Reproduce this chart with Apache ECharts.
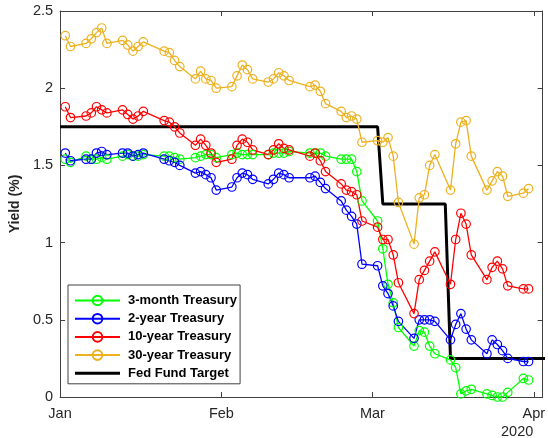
<!DOCTYPE html>
<html>
<head>
<meta charset="utf-8">
<script src="https://cdn.jsdelivr.net/npm/echarts@6/dist/echarts.min.js"></script>
<style>
html,body{margin:0;padding:0;background:#fff;}
#chart{width:548px;height:438px;}
</style>
</head>
<body>
<div id="chart"></div>
<script>
// ---- data ----
const dates = [
 '2020-01-02','2020-01-03','2020-01-06','2020-01-07','2020-01-08','2020-01-09','2020-01-10',
 '2020-01-13','2020-01-14','2020-01-15','2020-01-16','2020-01-17','2020-01-21','2020-01-22',
 '2020-01-23','2020-01-24','2020-01-27','2020-01-28','2020-01-29','2020-01-30','2020-01-31',
 '2020-02-03','2020-02-04','2020-02-05','2020-02-06','2020-02-07','2020-02-10','2020-02-11',
 '2020-02-12','2020-02-13','2020-02-14','2020-02-18','2020-02-19','2020-02-20','2020-02-21',
 '2020-02-24','2020-02-25','2020-02-26','2020-02-27','2020-02-28',
 '2020-03-02','2020-03-03','2020-03-04','2020-03-05','2020-03-06','2020-03-09','2020-03-10',
 '2020-03-11','2020-03-12','2020-03-13','2020-03-16','2020-03-17','2020-03-18','2020-03-19',
 '2020-03-20','2020-03-23','2020-03-24','2020-03-25','2020-03-26','2020-03-27','2020-03-30','2020-03-31'
];
const month3 = [
 1.54,1.52,1.56,1.54,1.54,1.55,1.54,1.56,1.57,1.56,1.56,1.57,1.56,1.56,1.55,1.54,1.55,1.56,1.57,1.57,1.55,
 1.57,1.58,1.57,1.57,1.57,1.57,1.58,1.58,1.58,1.59,1.58,1.58,1.58,1.56,1.54,1.54,1.54,1.46,1.27,
 1.14,0.96,0.73,0.61,0.45,0.33,0.43,0.42,0.33,0.28,0.24,0.19,0.02,0.04,0.05,0.02,0.01,0.00,0.00,0.03,0.12,0.11
];
const year2 = [
 1.58,1.53,1.54,1.54,1.58,1.59,1.57,1.58,1.58,1.56,1.57,1.58,1.54,1.53,1.52,1.50,1.45,1.46,1.44,1.42,1.34,
 1.36,1.42,1.45,1.44,1.41,1.38,1.41,1.45,1.44,1.42,1.42,1.43,1.39,1.35,1.27,1.21,1.17,1.12,0.86,
 0.85,0.72,0.67,0.59,0.49,0.38,0.50,0.50,0.50,0.49,0.37,0.47,0.54,0.44,0.37,0.28,0.37,0.34,0.30,0.25,0.23,0.23
];
const year10 = [
 1.88,1.81,1.82,1.84,1.88,1.86,1.84,1.86,1.83,1.80,1.82,1.85,1.79,1.78,1.75,1.71,1.63,1.67,1.63,1.58,1.52,
 1.54,1.63,1.67,1.65,1.60,1.57,1.60,1.64,1.61,1.60,1.56,1.58,1.53,1.46,1.38,1.34,1.33,1.31,1.14,
 1.10,1.02,1.02,0.92,0.74,0.54,0.76,0.82,0.88,0.94,0.73,1.02,1.19,1.12,0.92,0.76,0.84,0.88,0.83,0.72,0.70,0.70
];
const year30 = [
 2.34,2.27,2.29,2.32,2.36,2.39,2.29,2.31,2.28,2.24,2.27,2.30,2.24,2.23,2.18,2.14,2.06,2.11,2.06,2.05,2.00,
 2.01,2.08,2.15,2.12,2.06,2.04,2.06,2.10,2.08,2.05,2.01,2.02,1.98,1.90,1.85,1.81,1.82,1.80,1.65,
 1.66,1.65,1.68,1.56,1.26,0.99,1.29,1.31,1.50,1.57,1.34,1.64,1.78,1.79,1.56,1.34,1.40,1.46,1.43,1.30,1.32,1.35
];
const fedDates = ['2020-01-01','2020-03-02','2020-03-03','2020-03-15','2020-03-16','2020-04-05'];
const fedRate  = [1.75,1.75,1.25,1.25,0.25,0.25];
const monthTickDates = ['2020-01-01','2020-02-01','2020-03-01','2020-04-01'];
const monthTickLabels = ['Jan','Feb','Mar','Apr'];
const yearLabel = '2020';
const seriesNames = ['3-month Treasury','2-year Treasury','10-year Treasury','30-year Treasury','Fed Fund Target'];

// ---- build ----
function ts(s){ const p = s.split('-').map(Number); return Date.UTC(p[0], p[1]-1, p[2]); }
const DAY = 86400000;
const xMin = ts('2020-01-01');
const xMax = xMin + 92.7 * DAY;
const tickVals = monthTickDates.map(ts);
const pairs = (ds, vs) => ds.map((d, i) => [ts(d), vs[i]]);

const AX = '#404040';
const TXT = '#262626';
const FONT = 'Liberation Sans, Arial, Helvetica, sans-serif';

function markerSeries(name, vals, color){
  return {
    name: name, type: 'line', xAxisIndex: 0, yAxisIndex: 0,
    data: pairs(dates, vals),
    symbol: 'circle', symbolSize: 8.5, showSymbol: true,
    itemStyle: { color: 'rgba(0,0,0,0)', borderColor: color, borderWidth: 1.2 },
    lineStyle: { color: color, width: 1.3 },
    emphasis: { disabled: true },
    z: 3
  };
}

const legendData = seriesNames.map((n, i) =>
  i === 4 ? { name: n, icon: 'path://M0,0H45V3H0Z', itemStyle: { color: '#000' } } : { name: n });

const chart = echarts.init(document.getElementById('chart'), null, { renderer: 'canvas' });
chart.setOption({
  animation: false,
  backgroundColor: '#fff',
  textStyle: { fontFamily: FONT },
  grid: { left: 57, right: 2, top: 11, bottom: 41 },
  legend: {
    orient: 'vertical', left: 68, top: 285,
    data: legendData,
    backgroundColor: '#fff',
    borderColor: AX, borderWidth: 1,
    padding: [9, 3, 4, 6],
    itemWidth: 45, itemHeight: 12, itemGap: 5.2,
    symbolKeepAspect: true,
    selectedMode: false,
    textStyle: { fontFamily: FONT, fontWeight: 'bold', fontSize: 13, color: '#000', padding: [0,0,0,3] }
  },
  xAxis: [{
    type: 'value', min: xMin, max: xMax, position: 'bottom',
    axisLine: { show: true, onZero: false, lineStyle: { color: AX, width: 1 } },
    axisTick: { show: true, inside: true, length: 5, customValues: tickVals, lineStyle: { color: AX } },
    axisLabel: { show: true, customValues: tickVals, margin: 9, color: TXT, fontSize: 14.5, fontFamily: FONT,
      formatter: v => { const i = tickVals.indexOf(v); return i >= 0 ? monthTickLabels[i] : ''; } },
    splitLine: { show: false }
  }, {
    type: 'value', min: xMin, max: xMax, position: 'top',
    axisLine: { show: true, onZero: false, lineStyle: { color: AX, width: 1 } },
    axisTick: { show: true, inside: true, length: 5, customValues: tickVals, lineStyle: { color: AX } },
    axisLabel: { show: false },
    splitLine: { show: false }
  }],
  yAxis: [{
    type: 'value', min: 0, max: 2.5, interval: 0.5, position: 'left',
    name: 'Yield (%)', nameLocation: 'middle', nameGap: 36, nameRotate: 90,
    nameTextStyle: { fontWeight: 'bold', fontSize: 14, color: TXT, fontFamily: FONT },
    axisLine: { show: true, onZero: false, lineStyle: { color: AX, width: 1 } },
    axisTick: { show: true, inside: true, length: 5, lineStyle: { color: AX } },
    axisLabel: { color: TXT, fontSize: 14.5, margin: 7, fontFamily: FONT },
    splitLine: { show: false }
  }, {
    type: 'value', min: 0, max: 2.5, interval: 0.5, position: 'right',
    axisLine: { show: true, onZero: false, lineStyle: { color: AX, width: 1 } },
    axisTick: { show: true, inside: true, length: 5, lineStyle: { color: AX } },
    axisLabel: { show: false },
    splitLine: { show: false }
  }],
  graphic: [{
    type: 'text', left: 501, top: 424,
    style: { text: yearLabel, fill: TXT, font: '14.5px ' + FONT }
  }],
  series: [
    markerSeries(seriesNames[0], month3, '#00ff00'),
    markerSeries(seriesNames[1], year2, '#0000ff'),
    markerSeries(seriesNames[2], year10, '#ff0000'),
    markerSeries(seriesNames[3], year30, '#edb120'),
    {
      name: seriesNames[4], type: 'line', xAxisIndex: 0, yAxisIndex: 0,
      data: pairs(fedDates, fedRate),
      showSymbol: false, symbol: 'none',
      lineStyle: { color: '#000', width: 3 },
      itemStyle: { color: '#000' },
      emphasis: { disabled: true },
      z: 2
    }
  ]
});
</script>
</body>
</html>
